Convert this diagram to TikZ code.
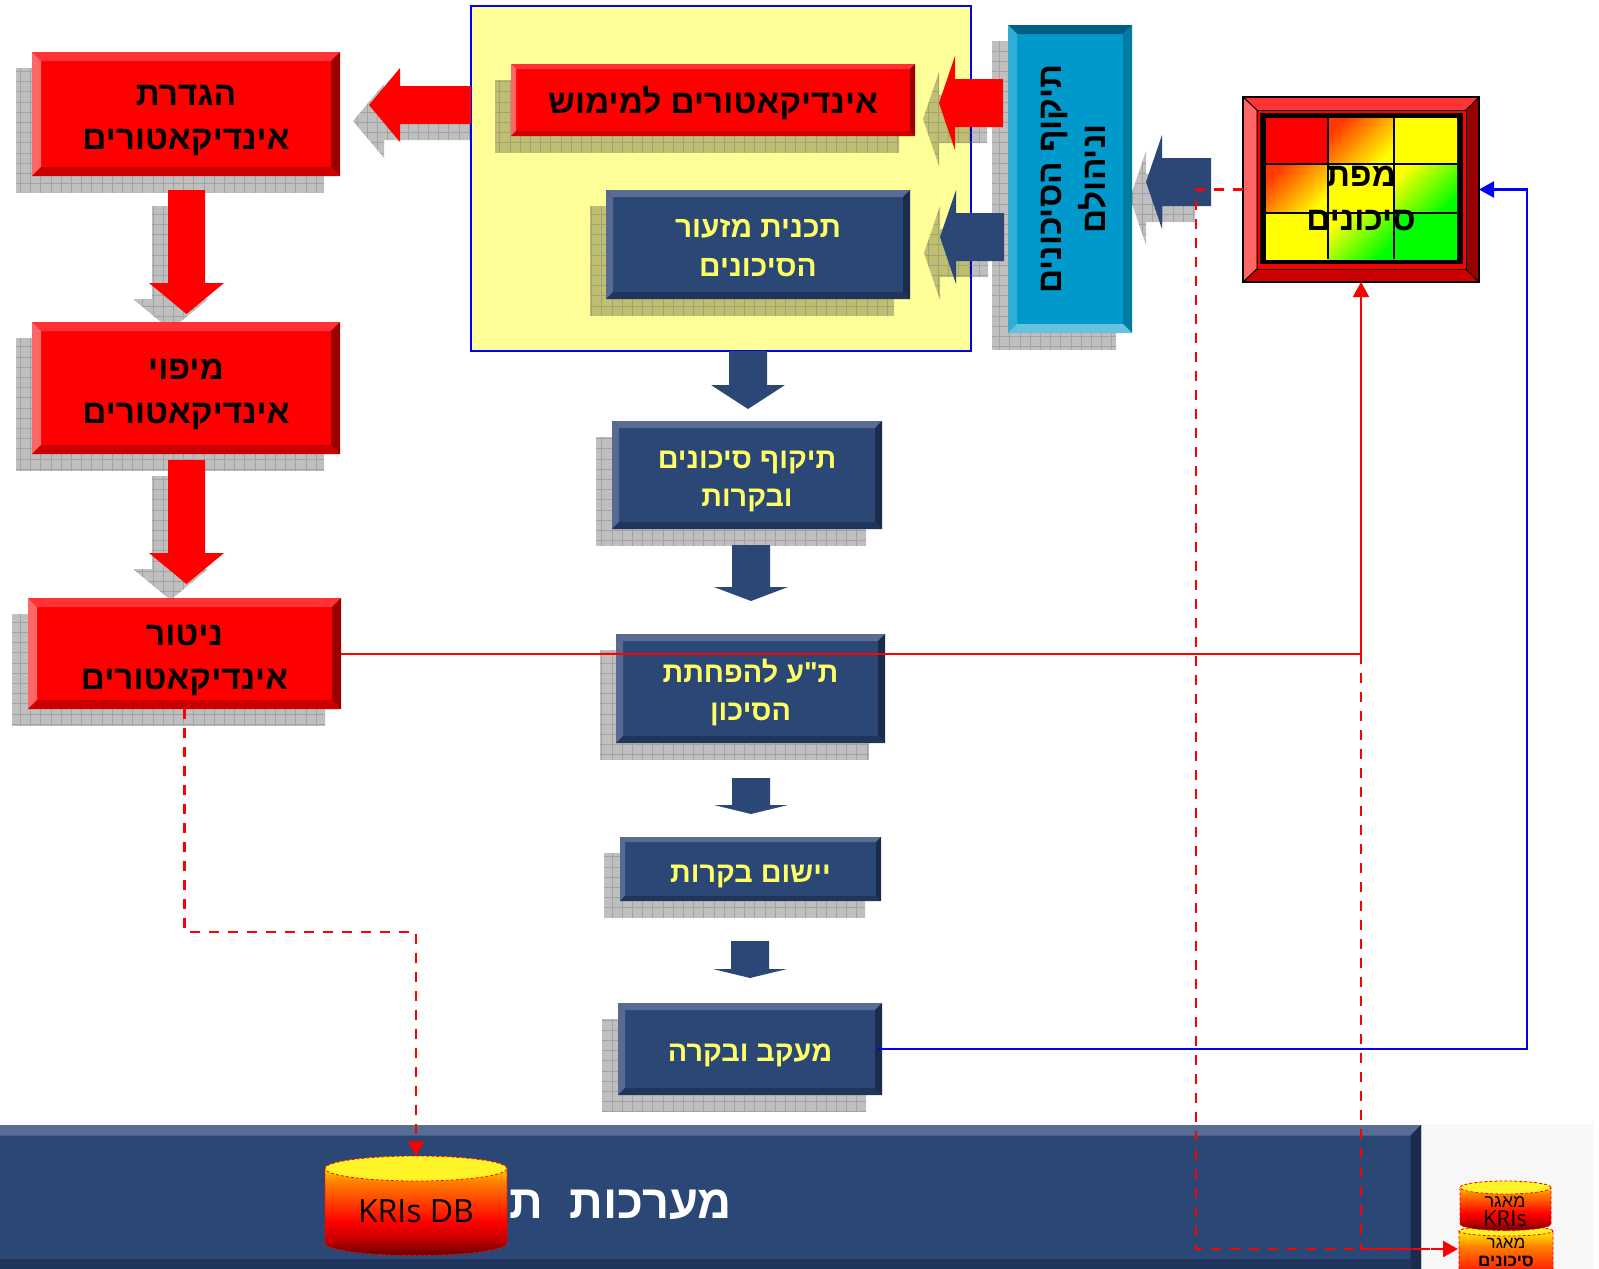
\documentclass[tikz,border=0pt]{standalone}
\usepackage{fontspec}
\usetikzlibrary{arrows.meta}
\TeXXeTstate=1
\newfontfamily\heb[Script=Hebrew]{Liberation Sans}
\newfontfamily\lat{Open Sans}
\newcommand\hb[1]{\beginR #1\endR}
\definecolor{redM}{HTML}{FF0000}\definecolor{redT}{HTML}{FF3333}\definecolor{redL}{HTML}{FF6666}\definecolor{redR}{HTML}{990000}\definecolor{redB}{HTML}{CC0000}
\definecolor{navM}{HTML}{2B4775}\definecolor{navT}{HTML}{586C94}\definecolor{navL}{HTML}{566A92}\definecolor{navR}{HTML}{1A2B4C}\definecolor{navB}{HTML}{20355C}
\definecolor{bluM}{HTML}{0099CC}\definecolor{bluT}{HTML}{005F80}\definecolor{bluL}{HTML}{33ADD6}\definecolor{bluR}{HTML}{007BA3}\definecolor{bluB}{HTML}{66C2E0}
\definecolor{paneY}{HTML}{FFFF99}\definecolor{txtY}{HTML}{FFFF66}\definecolor{cylTop}{HTML}{FFF428}
\pgfdeclareverticalshading{cylshade}{100bp}{color(0bp)=(black!60!red);color(25bp)=(black!60!red);color(34bp)=(red!80!black);color(42bp)=(red);color(62bp)=(orange);color(72bp)=(yellow!90!orange);color(75bp)=(yellow);color(100bp)=(yellow)}
\tikzset{
  redtxt/.style={text=black,font={\heb\bfseries\fontsize{33.4}{44}\selectfont},align=center},
  navtxt/.style={text=txtY,font={\heb\bfseries\fontsize{28.8}{38}\selectfont},align=center},
  plainbox/.style={inner sep=0pt,outer sep=0pt},
  connred/.style={draw=red,line width=2pt},
  conndash/.style={draw=red,line width=2.4pt,dash pattern=on 10pt off 9pt},
  connblue/.style={draw=blue,line width=2.2pt},
  tip/.style={-{Triangle[width=16pt,length=15pt]}},
  cyledge/.style={draw=red,line width=0.8pt,densely dashed},
}
% left pointing block arrow: tip x, centre y, back x, half head, end x, half shaft
\newcommand\larrowpath[6]{({#1},{#2}) -- ({#3},{#2-#4}) -- ({#3},{#2-#6}) -- ({#5},{#2-#6}) -- ({#5},{#2+#6}) -- ({#3},{#2+#6}) -- ({#3},{#2+#4}) -- cycle}
% down pointing block arrow: centre x, start y, back y, tip y, half shaft, half head
\newcommand\darrowpath[6]{({#1-#5},{#2}) -- ({#1+#5},{#2}) -- ({#1+#5},{#3}) -- ({#1+#6},{#3}) -- ({#1},{#4}) -- ({#1-#6},{#3}) -- ({#1-#5},{#3}) -- cycle}
% hatched drop shadow of a path
\newcommand\shad[1]{\begin{scope}
  \path[clip,shift={(-16,16)}] #1;
  \fill[black,opacity=.25] (0,0) rectangle (1599,1269);
  \begin{scope}[y=1pt]\draw[gray,line width=.7pt,opacity=.45,step=10.2] (0,-1269) grid (1599,0);\end{scope}
\end{scope}}
\newcommand\shadrect[4]{\shad{(#1,#2) rectangle (#3,#4)}}
% name x1 y1 x2 y2 bevel scheme style(text yshift included) text
\newcommand\bbox[9]{%
  \fill[#7M] (#2,#3) rectangle (#4,#5);
  \fill[#7T] (#2,#3) -- (#4,#3) -- ({#4-#6},{#3+#6}) -- ({#2+#6},{#3+#6}) -- cycle;
  \fill[#7L] (#2,#3) -- ({#2+#6},{#3+#6}) -- ({#2+#6},{#5-#6}) -- (#2,#5) -- cycle;
  \fill[#7R] (#4,#3) -- ({#4-#6},{#3+#6}) -- ({#4-#6},{#5-#6}) -- (#4,#5) -- cycle;
  \fill[#7B] (#2,#5) -- ({#2+#6},{#5-#6}) -- ({#4-#6},{#5-#6}) -- (#4,#5) -- cycle;
  \node[plainbox,minimum width={(#4-#2)*1pt},minimum height={(#5-#3)*1pt}] (#1) at ({(#2+#4)/2},{(#3+#5)/2}) {};
  \node[plainbox,#8] (#1t) at (#1.center) {#9};
}
% x1 x2 top-ellipse-centre bottom-ellipse-centre ry
\newcommand\cyl[5]{%
  \path[shading=cylshade] (#1,#3) -- (#1,#4) arc[start angle=180,end angle=360,x radius={(#2-#1)/2*1pt},y radius=#5 pt] -- (#2,#3) arc[start angle=0,end angle=180,x radius={(#2-#1)/2*1pt},y radius=#5 pt] -- cycle;
  \draw[cyledge] (#1,#3) -- (#1,#4) arc[start angle=180,end angle=360,x radius={(#2-#1)/2*1pt},y radius=#5 pt] -- (#2,#3);
  \filldraw[cyledge,fill=cylTop] ({(#1+#2)/2},#3) ellipse[x radius={(#2-#1)/2*1pt},y radius=#5 pt];
}
\newcommand\cell[7]{\shade[shading=axis,top color=#5,bottom color=#6,shading angle=#7] (#1,#2) rectangle (#3,#4);}
\begin{document}
\begin{tikzpicture}[x=1pt,y=-1pt]
\useasboundingbox (0,0) rectangle (1599,1269);
\clip (0,0) rectangle (1599,1269);
% background of lower right corner
\fill[white] (0,0) rectangle (1599,1269);
\fill[black!3] (1421,1124) rectangle (1593,1269);
% shadow running behind the panel
\shad{\larrowpath{369}{105}{400}{37}{487}{19}}
% panel
\node[plainbox,draw=blue,line width=2pt,fill=paneY,minimum width=500pt,minimum height=345pt] (panel) at (721,178.5) {};
% shadows
\shadrect{32}{52}{340}{176}
\shadrect{32}{322}{340}{454}
\shadrect{28}{598}{341}{709}
\shadrect{511}{64}{915}{136}
\shadrect{606}{190}{910}{299}
\shadrect{1008}{25}{1132}{333}
\shadrect{612}{421}{882}{529}
\shadrect{616}{634}{885}{743}
\shadrect{620}{837}{881}{901}
\shadrect{618}{1003}{882}{1095}
\shad{\larrowpath{939}{103}{955}{47}{1003}{24}}
\shad{\larrowpath{940}{237}{956}{47}{1004}{24}}
\shad{\larrowpath{1146}{182}{1162}{47}{1211}{24}}
\shad{\darrowpath{186.5}{190}{283}{314}{18.5}{37.5}}
\shad{\darrowpath{186.5}{460}{553}{584}{18.5}{37.5}}
% block arrows
\fill[red] \larrowpath{369}{105}{400}{37}{471}{19};
\fill[red] \larrowpath{939}{103}{955}{47}{1003}{24};
\fill[navM] \larrowpath{940}{237}{956}{47}{1004}{24};
\fill[navM] \larrowpath{1146}{182}{1162}{47}{1211}{24};
\fill[red] \darrowpath{186.5}{190}{283}{314}{18.5}{37.5};
\fill[red] \darrowpath{186.5}{460}{553}{584}{18.5}{37.5};
\fill[navM] \darrowpath{748}{351}{385}{409}{19}{37};
\fill[navM] \darrowpath{751}{545}{587}{601}{19}{37};
\fill[navM] \darrowpath{751}{778}{805}{814}{19}{37};
\fill[navM] \darrowpath{750}{941}{969}{978}{19}{37};
% boxes
\bbox{def}{32}{52}{340}{176}{9}{red}{redtxt,yshift=-6.5pt}{\hb{הגדרת}\\\hb{אינדיקאטורים}}
\bbox{mapi}{32}{322}{340}{454}{9}{red}{redtxt,yshift=-6.5pt}{\hb{מיפוי}\\\hb{אינדיקאטורים}}
\bbox{mon}{28}{598}{341}{709}{9}{red}{redtxt,yshift=-6.5pt}{\hb{ניטור}\\\hb{אינדיקאטורים}}
\bbox{impl}{511}{64}{915}{136}{5}{red}{redtxt,yshift=-3pt}{\hb{אינדיקאטורים למימוש}}
\bbox{plan}{606}{190}{910}{299}{7}{nav}{navtxt,yshift=-3.5pt,font={\heb\bfseries\fontsize{29.8}{39}\selectfont}}{\hb{תכנית מזעור}\\\hb{הסיכונים}}
\bbox{valid}{1008}{25}{1132}{333}{9}{blu}{plainbox}{}
\node[redtxt,rotate=90] (validtxt) at ([xshift=4pt]valid.center) {\hb{תיקוף הסיכונים}\\\hb{וניהולם}};
\bbox{rev}{612}{421}{882}{529}{7}{nav}{navtxt,yshift=-6pt}{\hb{תיקוף סיכונים}\\\hb{ובקרות}}
\bbox{plan2}{616}{634}{885}{743}{7}{nav}{navtxt,yshift=-4pt}{\hb{ת"ע להפחתת}\\\hb{הסיכון}}
\bbox{ctrl}{620}{837}{881}{901}{5}{nav}{navtxt,yshift=-7pt}{\hb{יישום בקרות}}
\bbox{track}{618}{1003}{882}{1095}{7}{nav}{navtxt,yshift=-6pt}{\hb{מעקב ובקרה}}
% risk map
\bbox{rmap}{1243}{97}{1479}{282}{13}{red}{plainbox}{}
\draw[black,line width=1.5pt] (1243,97) rectangle (1479,282);
\foreach \a/\b/\c/\d in {1243/97/1257/110,1479/97/1466/110,1243/282/1257/269,1479/282/1466/269}{\draw[black,line width=1pt] (\a,\b) -- (\c,\d);}
\draw[black,line width=1pt] (1257,110) rectangle (1466,269);
\fill[black] (1260,113) rectangle (1463,264);
\cell{1266}{118}{1328}{164}{red}{red}{0}
\cell{1328}{118}{1394}{164}{red!78!yellow}{yellow}{45}
\cell{1394}{118}{1457}{164}{yellow}{yellow}{0}
\cell{1266}{164}{1328}{213}{red!78!yellow}{yellow}{45}
\cell{1328}{164}{1394}{213}{yellow}{yellow}{0}
\cell{1394}{164}{1457}{213}{yellow}{green}{45}
\cell{1266}{213}{1328}{259}{yellow}{yellow}{0}
\cell{1328}{213}{1394}{259}{yellow}{green}{45}
\cell{1394}{213}{1457}{259}{green}{green}{0}
\foreach \x in {1328,1394}{\draw[black,line width=2.2pt] (\x,118) -- (\x,259);}
\foreach \y in {164,213}{\draw[black,line width=2.2pt] (1266,\y) -- (1457,\y);}
\node[redtxt] (rmaptxt) at (1361,198) {\hb{מפת}\\\hb{סיכונים}};
% bottom bar
\bbox{bar}{-20}{1125}{1421}{1289}{10.5}{nav}{plainbox}{}
\fill[navR] (1421,1125) -- (1411,1136) -- (1411,1269) -- (1421,1269) -- cycle;
\fill[navB] (-20,1259) rectangle (1411,1269);
\node[plainbox,anchor=base east,text=white,font={\heb\bfseries\fontsize{47}{50}\selectfont}] (bartxt) at (732,1218) {\hb{מערכות\hspace{13pt} ת}};
% cylinders
\cyl{325}{507}{1168.5}{1243}{12.5}
\node[plainbox,font={\lat\fontsize{32}{36}\selectfont},text=black] (kris) at (416,1211) {KRIs DB};
\cyl{1459}{1553}{1231}{1300}{5}
\node[plainbox,align=center,text=black,font={\heb\fontsize{17}{18}\selectfont},minimum width=94pt] (src2) at (1506,1252) {\hb{מאגר}\\\textbf{\hb{סיכונים}}};
\cyl{1460}{1551}{1187.5}{1224}{6.5}
\node[plainbox,align=center,text=black,font={\heb\fontsize{18}{19}\selectfont},minimum width=91pt] (src1) at (1505,1211.5) {\hb{מאגר}\\{\lat\fontsize{22}{22}\selectfont KRIs}};
% connectors
\coordinate (bluec) at (1527,189.5);
\coordinate (dbelbow) at (185,932);
\coordinate (mapc) at (1196,189.5);
\coordinate (lowc) at (1361,653.5);
\draw[connred,tip] (mon.east) -| (rmap.south);
\draw[connblue,tip] ([xshift=-4pt]track.east) -| (bluec) -- (rmap.east);
\draw[conndash,tip] (mon.south) |- (dbelbow) -| (kris.north |- 0,1156);
\draw[conndash] (rmap.west) -- (mapc) |- ([xshift=-2pt]src2.west |- 0,1249);
\draw[conndash,tip] (lowc) |- ([xshift=-1pt]src2.west |- 0,1249);
\end{tikzpicture}
\end{document}
